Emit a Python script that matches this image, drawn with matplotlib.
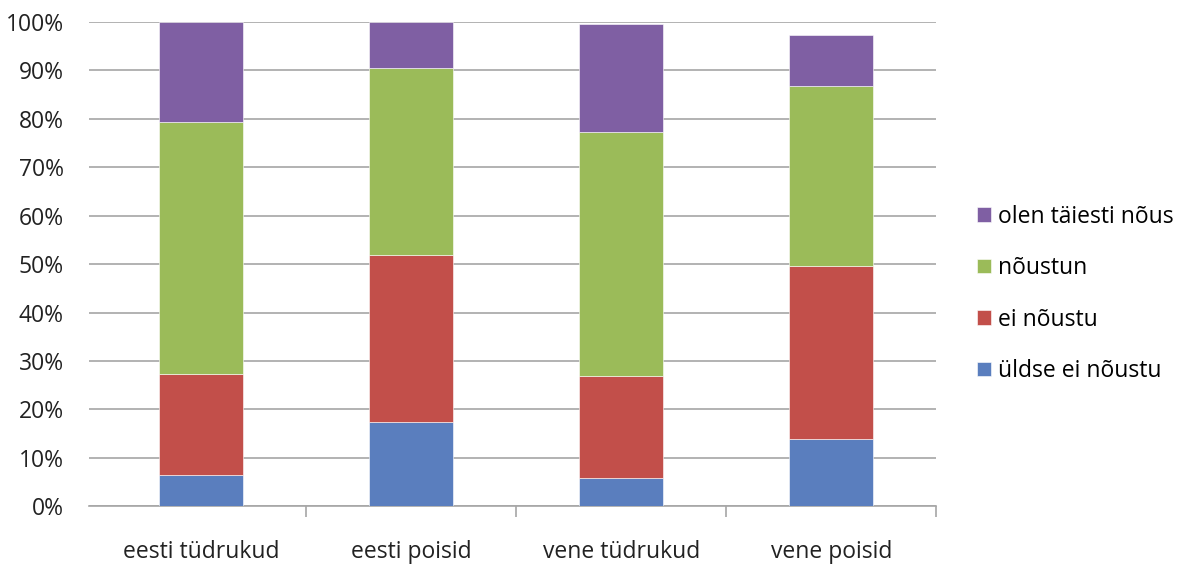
import matplotlib.pyplot as plt
import numpy as np

categories = ["eesti tüdrukud", "eesti poisid", "vene tüdrukud", "vene poisid"]
series_names = ["üldse ei nõustu", "ei nõustu", "nõustun", "olen täiesti nõus"]
# cumulative tops, in percent
tops = [
    [6.4, 27.4, 79.4, 100.0],
    [17.5, 51.9, 90.6, 100.0],
    [5.9, 27.0, 77.3, 99.6],
    [13.9, 49.6, 86.8, 97.3],
]
colors = ["#5a7ebe", "#c24f4a", "#9bbb59", "#7f5fa3"]

plt.rcParams['font.family'] = ['Open Sans', 'DejaVu Sans']

fig = plt.figure(figsize=(11.96, 5.65), dpi=100)
ax = fig.add_axes([0.0744, 0.104, 0.7085, 0.857])

tops = np.array(tops)
values = np.diff(np.hstack([np.zeros((len(categories), 1)), tops]), axis=1)
x = np.arange(len(categories))
bottom = np.zeros(len(categories))
handles = []
for j, name in enumerate(series_names):
    h = ax.bar(x, values[:, j], bottom=bottom, width=0.40, color=colors[j],
               label=name, zorder=3, edgecolor="white", linewidth=0.4)
    handles.append(h)
    bottom += values[:, j]

ax.set_xlim(-0.535, len(categories) - 0.5)
ax.set_ylim(0, 100)
ax.set_yticks(np.arange(0, 101, 10))
ax.set_yticklabels([f"{v}%" for v in range(0, 101, 10)], fontsize=16.5, color="#222222")
ax.yaxis.grid(True, color="#a6a6a6", linewidth=1.2, zorder=0)
ax.tick_params(axis="y", length=0, pad=18)

ax.set_xticks(x)
ax.set_xticklabels(categories, fontsize=16.5, color="#222222")
ax.tick_params(axis="x", length=0, pad=24)
ax.set_xticks(np.arange(0.5, len(categories), 1), minor=True)
ax.tick_params(axis="x", which="minor", length=8, color="#a6a6a6", width=1.2)

for s in ["left", "right", "top"]:
    ax.spines[s].set_visible(False)
ax.spines["bottom"].set_color("#a6a6a6")
ax.spines["bottom"].set_linewidth(1.2)

leg = fig.legend(handles[::-1], series_names[::-1], loc="center left",
                 bbox_to_anchor=(0.8, 0.48), frameon=False, fontsize=16.5,
                 handlelength=0.6, handleheight=0.6, handletextpad=0.3,
                 labelspacing=1.2)

fig.savefig("out.png", dpi=100)
